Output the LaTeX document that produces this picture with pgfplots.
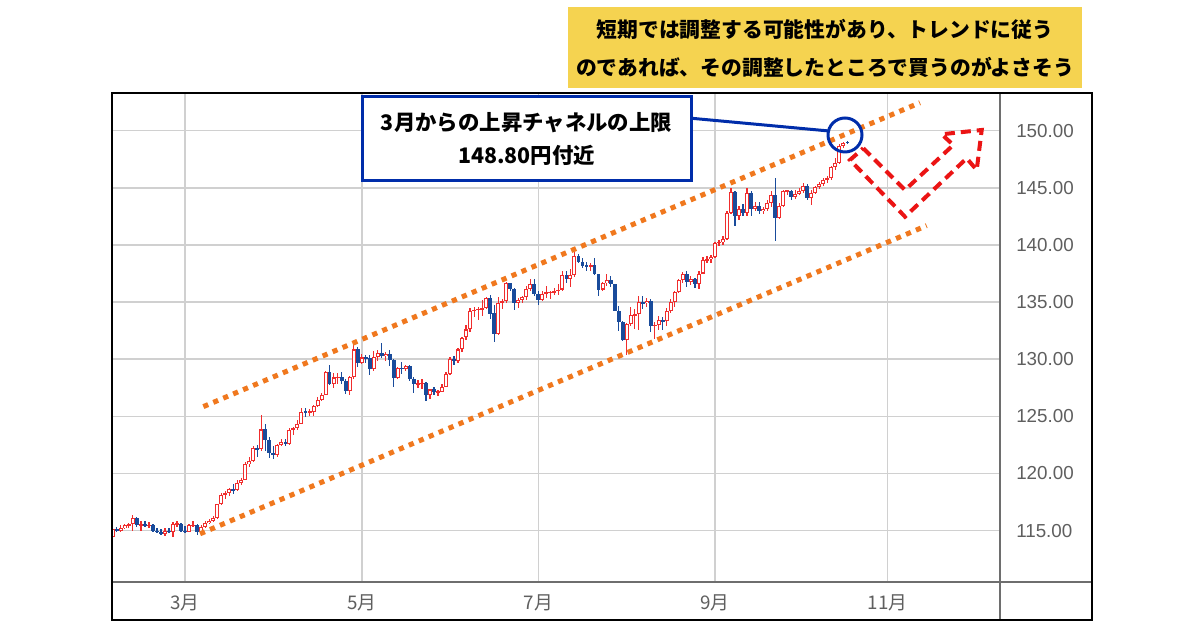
\documentclass[border=0pt]{standalone}
\usepackage{pgfplots}
\pgfplotsset{compat=1.18}
\usepackage{pgfplotstable}
\usepackage{fontspec}
\setmainfont{Liberation Sans}
\newfontfamily\cjk{Noto Sans CJK JP}
\definecolor{candred}{RGB}{240,45,45}
\definecolor{candblue}{RGB}{25,75,155}
\definecolor{chanorange}{RGB}{240,120,30}
\definecolor{arrowred}{RGB}{235,20,20}
\definecolor{calloutblue}{RGB}{0,45,170}
\definecolor{yellowbg}{RGB}{245,211,80}
\definecolor{gridgray}{RGB}{208,208,208}
\definecolor{labelgray}{RGB}{95,95,95}
\definecolor{framegray}{RGB}{110,110,110}

% trading-day index (1 Feb 2022 = 0), open high low close -- rising days
\pgfplotstableread{
i o h l c
2 114.45 115.25 114.35 115.10
4 115.00 115.45 114.90 115.25
5 115.25 115.60 115.10 115.45
6 115.45 115.65 115.20 115.55
7 115.55 116.35 115.00 116.10
9 115.45 115.80 114.95 115.60
11 115.40 115.75 115.20 115.50
15 114.70 115.20 114.55 115.00
17 114.85 115.75 114.40 115.55
18 115.55 115.80 115.30 115.60
21 114.90 115.60 114.85 115.45
22 115.45 115.80 115.30 115.50
24 114.85 115.50 114.80 115.35
25 115.35 115.80 115.20 115.65
26 115.65 116.00 115.55 115.85
27 115.85 116.30 115.75 116.10
28 116.10 117.35 116.00 117.30
29 117.30 118.30 117.20 118.15
30 118.15 118.45 117.75 118.30
31 118.30 118.70 118.05 118.60
33 118.55 119.40 118.45 119.15
34 119.15 119.60 119.00 119.45
35 119.45 121.00 119.40 120.85
36 120.85 121.45 120.60 121.05
37 121.05 122.40 121.00 122.25
39 122.10 125.10 121.95 123.85
43 121.65 122.60 121.45 122.50
44 122.50 123.05 122.40 122.75
46 122.60 123.95 122.50 123.80
47 123.80 124.05 123.40 123.95
48 123.95 124.70 123.80 124.35
49 124.35 125.75 124.30 125.40
51 125.35 125.60 125.00 125.40
52 125.40 126.00 125.05 125.90
53 125.90 126.65 125.80 126.40
54 126.40 127.05 126.30 126.90
55 126.90 128.95 126.85 128.90
57 127.85 128.75 127.50 128.40
58 128.40 128.80 127.85 128.45
61 127.25 128.55 126.90 128.45
62 128.45 131.25 128.30 130.85
64 129.70 130.45 129.60 130.15
67 129.10 130.75 128.95 130.20
68 130.20 130.80 129.85 130.55
70 130.25 130.60 129.80 130.45
73 128.35 129.35 128.30 129.25
75 129.15 129.50 128.95 129.40
78 127.80 128.15 127.50 127.85
79 127.85 128.25 127.40 127.90
81 126.85 127.40 126.55 127.35
83 127.10 127.30 126.80 127.15
84 127.15 127.85 127.10 127.60
85 127.60 128.90 127.55 128.70
86 128.70 130.20 128.60 130.05
88 129.85 130.95 129.70 130.85
89 130.85 131.95 130.60 131.90
90 131.90 133.00 131.70 132.60
91 132.60 134.50 132.40 134.20
92 134.20 134.55 133.70 134.35
93 134.35 134.60 133.40 134.40
94 134.40 135.20 133.80 134.45
95 134.45 135.45 134.35 135.35
98 132.20 135.45 132.15 134.95
99 134.95 135.25 134.40 135.10
100 135.10 136.75 134.95 136.65
103 134.95 135.40 134.50 135.20
104 135.20 135.55 134.95 135.45
105 135.45 136.40 135.20 136.15
106 136.15 137.00 135.95 136.60
109 135.20 135.95 135.10 135.70
110 135.70 136.40 135.40 135.85
111 135.85 136.00 135.25 135.90
112 135.90 136.20 135.60 135.95
113 135.95 136.55 135.60 136.10
114 136.10 137.70 136.00 137.40
116 137.00 137.90 136.35 137.40
117 137.40 139.40 137.20 139.00
121 138.15 138.40 137.70 138.25
124 136.10 136.80 135.95 136.65
125 136.65 137.45 136.40 136.95
130 131.65 133.15 130.40 133.05
131 133.05 134.55 132.90 133.85
132 133.85 134.35 132.60 133.95
133 133.95 135.50 132.55 135.00
135 134.90 135.40 134.60 135.10
137 132.90 133.30 131.75 133.00
138 133.00 133.75 132.60 133.45
140 133.30 134.45 132.95 134.20
141 134.20 135.30 134.05 135.00
142 135.00 136.00 134.60 135.85
143 135.85 137.00 135.80 136.90
144 136.90 137.65 136.70 137.50
146 136.75 137.25 136.50 137.05
148 136.60 137.70 136.15 137.50
149 137.50 138.95 137.45 138.70
150 138.70 139.00 138.40 138.75
151 138.75 139.15 138.45 138.95
152 138.95 140.25 138.85 140.20
153 140.20 140.40 139.90 140.25
154 140.25 140.80 140.00 140.50
155 140.50 143.00 140.45 142.80
156 142.80 145.00 142.70 144.60
158 142.55 143.45 142.20 143.15
160 142.80 145.00 142.55 144.55
162 143.15 143.80 142.95 143.45
164 142.95 143.35 142.70 143.15
165 143.15 143.95 143.00 143.70
166 143.70 144.70 143.35 144.35
168 142.40 143.65 142.30 143.40
169 143.40 144.80 143.30 144.70
170 144.70 144.85 144.35 144.75
172 144.20 144.80 144.05 144.50
173 144.50 144.95 144.40 144.70
174 144.70 145.45 144.55 145.20
176 144.15 144.80 143.50 144.55
177 144.55 145.20 144.45 145.10
178 145.10 145.55 144.90 145.35
179 145.35 145.85 145.15 145.70
180 145.70 146.05 145.45 145.85
181 145.85 146.95 145.70 146.85
182 146.85 147.65 146.60 147.20
183 147.20 148.85 147.10 148.70
184 148.70 149.05 148.50 148.95
}\updays

% falling days
\pgfplotstableread{
i o h l c
3 115.10 115.30 114.85 115.00
8 116.10 116.20 115.30 115.45
10 115.60 115.80 115.30 115.40
12 115.50 115.60 114.90 115.00
13 115.00 115.20 114.80 114.90
14 114.90 115.10 114.60 114.70
16 115.00 115.25 114.80 114.85
19 115.60 115.70 114.85 114.95
20 114.95 115.40 114.75 114.90
23 115.50 115.55 114.65 114.85
32 118.60 119.10 118.20 118.55
38 122.25 122.45 121.40 122.10
40 123.85 124.30 121.95 122.90
41 122.90 123.20 121.35 121.75
42 121.75 122.40 121.30 121.65
45 122.75 123.05 122.40 122.60
50 125.40 125.75 124.95 125.35
56 128.90 129.45 127.70 127.85
59 128.45 128.85 127.85 128.10
60 128.10 128.30 126.95 127.25
63 130.85 131.10 129.30 129.70
65 130.15 130.35 129.70 130.10
66 130.10 130.40 128.60 129.10
69 130.55 131.40 130.10 130.25
71 130.45 130.80 129.40 129.95
72 129.95 130.00 127.55 128.35
74 129.25 129.75 128.70 129.15
76 129.40 129.45 128.05 128.25
77 128.25 128.45 127.05 127.80
80 127.90 128.00 126.35 126.85
82 127.35 127.55 126.90 127.10
87 130.05 130.25 129.50 129.85
96 135.35 135.60 133.50 134.00
97 134.00 134.70 131.50 132.20
101 136.65 136.70 135.95 136.15
102 136.15 136.25 134.30 134.95
107 136.60 137.00 135.55 135.70
108 135.70 135.95 134.75 135.20
115 137.40 137.75 136.70 137.00
118 139.00 139.20 138.40 138.55
119 138.55 138.85 138.00 138.20
120 138.20 138.50 137.75 138.15
122 138.25 138.85 137.40 137.45
123 137.45 137.50 135.55 136.10
126 136.95 137.25 136.35 136.55
127 136.55 136.60 134.20 134.25
128 134.25 134.65 132.50 133.25
129 133.25 133.30 131.60 131.65
134 135.00 135.55 134.40 134.90
136 135.10 135.25 132.35 132.90
139 133.45 133.65 132.55 133.30
145 137.50 137.70 136.30 136.75
147 137.05 137.10 136.25 136.60
157 144.60 144.75 141.70 142.55
159 143.15 143.60 142.55 142.80
161 144.55 144.70 142.50 143.15
163 143.45 143.75 142.75 142.95
167 144.35 145.90 140.35 142.40
171 144.75 144.85 143.90 144.20
175 145.20 145.30 143.95 144.15
185 149.05 149.10 148.85 148.90
}\downdays

\begin{document}
\begin{tikzpicture}
\path[use as bounding box] (0pt,0pt) rectangle (600pt,315pt);
\fill[white] (0pt,0pt) rectangle (600pt,315pt);
\begin{axis}[
  at={(56pt,24pt)}, anchor=south west,
  scale only axis, width=444pt, height=244.5pt,
  xmin=1.8, xmax=223, ymin=110.5, ymax=153.3,
  axis line style={draw=none}, major tick length=0pt,
  tick style={draw=none},
  grid=major, grid style={color=gridgray, line width=0.8pt},
  xtick={20,64,108,152,195},
  xticklabels={3月,5月,7月,9月,11月},
  xticklabel style={font=\cjk\fontsize{9.4pt}{11pt}\selectfont, text=labelgray, anchor=center, yshift=-10.2pt},
  ytick={115,120,125,130,135,140,145,150},
  yticklabels={115.00,120.00,125.00,130.00,135.00,140.00,145.00,150.00},
  yticklabel pos=right,
  yticklabel style={font=\fontsize{9.4pt}{11pt}\selectfont, text=labelgray, anchor=west, xshift=4.6pt},
  clip=true,
  candle/.style={draw=none, mark=none,
    /pgfplots/error bars/y dir=both,
    /pgfplots/error bars/y explicit,
    /pgfplots/error bars/error mark=none,
    /pgfplots/error bars/error bar style={#1}},
]
% wicks
\addplot[candle={draw=candred, line width=0.6pt}]
  table[x=i, y expr={(\thisrow{h}+\thisrow{l})/2}, y error expr={(\thisrow{h}-\thisrow{l})/2}] {\updays};
\addplot[candle={draw=candblue, line width=0.6pt}]
  table[x=i, y expr={(\thisrow{h}+\thisrow{l})/2}, y error expr={(\thisrow{h}-\thisrow{l})/2}] {\downdays};
% bodies
\addplot[candle={draw=candred, line width=2pt}]
  table[x=i, y expr={(\thisrow{o}+\thisrow{c})/2}, y error expr={max((\thisrow{c}-\thisrow{o})/2,0.05)}] {\updays};
\addplot[candle={draw=white, line width=1pt}]
  table[x=i, y expr={(\thisrow{o}+\thisrow{c})/2}, y error expr={max((\thisrow{c}-\thisrow{o})/2-0.09,0)}] {\updays};
\addplot[candle={draw=candblue, line width=1.9pt}]
  table[x=i, y expr={(\thisrow{o}+\thisrow{c})/2}, y error expr={max((\thisrow{o}-\thisrow{c})/2,0.05)}] {\downdays};
% channel lines
\addplot[chanorange, line width=2.5pt, dash pattern=on 2.6pt off 2.8pt] coordinates {(24.56,125.85) (203.06,152.45)};
\addplot[chanorange, line width=2.5pt, dash pattern=on 2.6pt off 2.8pt] coordinates {(23.74,114.72) (204.73,141.69)};
\end{axis}
\begin{scope}[x=0.5pt, y=-0.5pt, shift={(0pt,315pt)}]
% frame
\draw[framegray, line width=0.6pt] (1000,93) -- (1000,620);
\draw[framegray, line width=0.6pt] (112,582) -- (1092,582);
\draw[black, line width=0.7pt] (112,93) rectangle (1092,620);
% yellow note
\fill[yellowbg] (568,7) rectangle (1082,88);
\node[font=\cjk\bfseries\fontsize{10.4pt}{12pt}\selectfont, inner sep=0pt] at (825,29) {短期では調整する可能性があり、トレンドに従う};
\node[font=\cjk\bfseries\fontsize{10.4pt}{12pt}\selectfont, inner sep=0pt] at (825,67) {のであれば、その調整したところで買うのがよさそう};
% red zigzag arrow
\draw[arrowred, line width=2pt, dash pattern=on 5pt off 3pt, line join=miter]
  (863.3,148.3) -- (905,190) -- (953.3,145) -- (941.7,134.3) -- (981.7,130) -- (976.7,170) -- (966.7,158.3) -- (905,216.7) -- (850,160) -- cycle;
% callout
\draw[calloutblue, line width=1.5pt] (691.7,118.3) -- (829,131);
\draw[calloutblue, line width=1.5pt, fill=white] (362,97) rectangle (691,181);
\node[font=\cjk\bfseries\fontsize{10.7pt}{12pt}\selectfont, inner sep=0pt] at (526.5,123) {3月からの上昇チャネルの上限};
\node[font=\cjk\bfseries\fontsize{10.7pt}{12pt}\selectfont, inner sep=0pt] at (526.5,155) {148.80円付近};
\draw[calloutblue, line width=1.5pt] (845,135) circle[radius=8.5pt];
\end{scope}
\end{tikzpicture}
\end{document}
